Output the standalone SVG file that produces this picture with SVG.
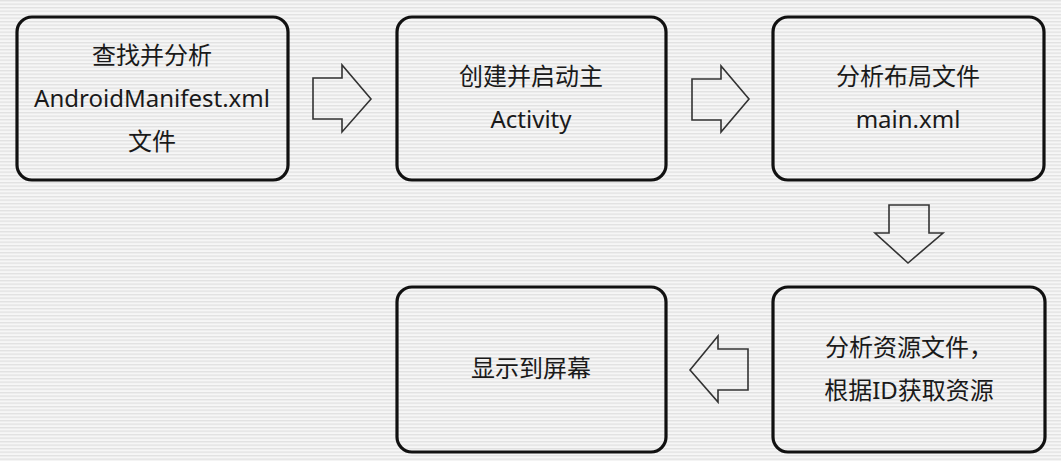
<svg xmlns="http://www.w3.org/2000/svg" width="1061" height="461" viewBox="0 0 1061 461">
<defs>
<pattern id="stripes" x="0" y="0" width="8" height="3.5" patternUnits="userSpaceOnUse">
<rect width="8" height="3.5" fill="#f6f6f6"/>
<rect y="0" width="8" height="1.3" fill="#e1e1e1"/>
</pattern>
</defs>
<style>
.box{fill:none;stroke:#111;stroke-width:3.2}
.arr{fill:none;stroke:#333;stroke-width:1.6;stroke-linejoin:miter}
.t{font-family:"Noto Sans","Noto Sans CJK SC",sans-serif;font-size:24px;fill:#1a1a1a;text-anchor:middle}
</style>
<rect width="1061" height="461" fill="url(#stripes)"/>
<g id="n1">
<rect class="box" x="17" y="17" width="271" height="163" rx="15"/>
<text class="t" x="152" y="64">查找并分析</text>
<text class="t" x="152" y="107">AndroidManifest.xml</text>
<text class="t" x="152" y="150">文件</text>
</g>
<g id="n2">
<rect class="box" x="397" y="17" width="269" height="163" rx="15"/>
<text class="t" x="531" y="85">创建并启动主</text>
<text class="t" x="531" y="128">Activity</text>
</g>
<g id="n3">
<rect class="box" x="773" y="17" width="271" height="163" rx="15"/>
<text class="t" x="908" y="85">分析布局文件</text>
<text class="t" x="908" y="128">main.xml</text>
</g>
<g id="n4">
<rect class="box" x="773" y="287" width="272" height="165" rx="15"/>
<text class="t" x="909" y="356">分析资源文件，</text>
<text class="t" x="909" y="399">根据ID获取资源</text>
</g>
<g id="n5">
<rect class="box" x="397" y="287" width="269" height="165" rx="15"/>
<text class="t" x="531" y="377">显示到屏幕</text>
</g>
<g id="connectors">
<polygon class="arr" points="313,78 342,78 342,65 371,99 342,132 342,119 313,119"/>
<polygon class="arr" points="692,79 721,79 721,66 749,99 721,132 721,120 692,120"/>
<polygon class="arr" points="889,205 929,205 929,233 943,233 908,263 875,233 889,233"/>
<polygon class="arr" points="748,349 718,349 718,336 690,370 718,402 718,390 748,390"/>
</g>
</svg>
